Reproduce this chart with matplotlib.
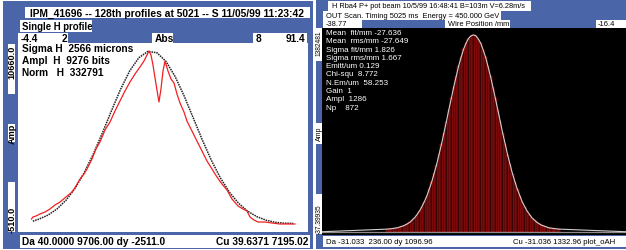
import numpy as np
import matplotlib
matplotlib.use("Agg")
import matplotlib.pyplot as plt
from matplotlib.patches import Rectangle

# ---------------- data: left panel (IPM profile) ----------------
left_xlim = (-4.4, 91.4)
left_ylim = (-510.0, 10660.0)
red_x = [0.06, 0.55, 1.55, 2.87, 4.52, 6.17, 7.82, 9.47, 11.45, 13.44, 14.76, 16.08,
         17.40, 18.39, 20.04, 21.36, 22.68, 24.34, 25.99, 27.64, 29.29, 30.94, 32.59,
         34.25, 35.90, 37.22, 38.21, 38.87, 39.53, 40.19, 41.18, 42.17, 42.83, 43.50,
         44.16, 45.15, 46.14, 47.13, 48.12, 49.11, 50.43, 51.42, 53.07, 54.72, 56.38,
         58.03, 59.68, 61.33, 62.98, 64.63, 66.28, 68.27, 69.92, 71.24, 72.23, 73.55,
         74.87, 77.18, 79.49, 82.13, 84.78, 87.09]
red_y = [258, 377, 436, 554, 672, 849, 1086, 1263, 1559, 1854, 2209, 2622,
         2918, 3213, 3804, 4395, 4809, 5518, 5991, 6641, 7232, 7823, 8355,
         8828, 9242, 9596, 9951, 10187, 9951, 9360, 8237, 7173, 7941, 9005,
         9596, 9005, 8532, 8296, 7646, 7114, 6582, 6050, 5459, 4868, 4277,
         3686, 3213, 2740, 2327, 1972, 1440, 1027, 849, 731, 377, 199,
         81, 81, 22, -37, -37, -37]
fit_x = [0.5, 2.5, 5.5, 8.5, 11.5, 14.5, 17.5, 20.5, 23.5, 26.5, 29.5, 32.5, 35.5,
         38.5, 41.5, 44.5, 47.5, 50.5, 53.5, 56.5, 59.5, 62.5, 65.5, 68.5, 71.5,
         74.5, 77.5, 80.5, 83.5, 86.5]
fit_y = [130, 249, 489, 853, 1376, 2086, 3001, 4106, 5355, 6667, 7929, 9011, 9787,
         10162, 10085, 9569, 8679, 7522, 6229, 4926, 3718, 2674, 1828, 1182, 716,
         397, 191, 63, 10, 0]

left_title = "IPM_41696 -- 128th profiles at 5021 -- S 11/05/99 11:23:42"
left_sub = "Single H profile"
left_stats = ["Sigma H  2566 microns", "Ampl  H  9276 bits", "Norm   H  332791"]
left_bottom_l = "Da 40.0000 9706.00 dy -2511.0"
left_bottom_r = "Cu 39.6371 7195.02"

# ---------------- data: right panel (wire scan) ----------------
right_xlim = (-38.77, -16.40)
right_ylim = (-37.39935, 1382.481)
baseline = -15.0
bin_start = -33.936          # centre of first bin (mm)
bin_width = 0.18             # mm
counts = [3, 5, 7, 10, 12, 18, 23, 30, 39, 49, 65, 81, 103, 127, 158, 192, 230, 278,
          327, 386, 446, 516, 586, 664, 741, 823, 899, 979, 1050, 1122, 1181, 1236,
          1277, 1310, 1328, 1335, 1330, 1308, 1279, 1234, 1183, 1120, 1053, 977, 901,
          821, 743, 662, 589, 514, 448, 384, 329, 276, 233, 190, 158, 127, 103, 80,
          65, 49, 39, 29, 24, 17, 12, 9, 7, 5, 3]
right_title1 = "H Rba4 P+ pot beam 10/5/99 16:48:41 B=103m V=6.28m/s"
right_title2 = "OUT Scan. Timing 5025 ms  Energy = 450.000 GeV"
right_stats = ["Mean  fit/mm -27.636", "Mean  rms/mm -27.649", "Sigma fit/mm 1.826",
               "Sigma rms/mm 1.667", "Emitt/um 0.129", "Chi-squ  8.772",
               "N.Em/um  58.253", "Gain  1", "Ampl  1286", "Np    872"]
right_bottom_l = "Da -31.033  236.00 dy 1096.96"
right_bottom_r = "Cu -31.036 1332.96 plot_oAH"

# ---------------- figure ----------------
W, H = 626, 251
fig = plt.figure(figsize=(W / 100, H / 100), dpi=100)
fig.patch.set_facecolor("white")
FONT = "Liberation Sans"
BLUE = "#4a66a8"

bg = fig.add_axes([0, 0, 1, 1], zorder=0)
bg.set_xlim(0, W); bg.set_ylim(H, 0); bg.axis("off")
ov = fig.add_axes([0, 0, 1, 1], zorder=5)
ov.set_xlim(0, W); ov.set_ylim(H, 0); ov.axis("off"); ov.patch.set_alpha(0)


def box(ax, x0, y0, x1, y1, color="white"):
    ax.add_patch(Rectangle((x0, y0), x1 - x0, y1 - y0, facecolor=color,
                           edgecolor="none"))


def txt(x, y, s, size=7, color="black", weight="bold", ha="left", rot=0, va="center"):
    ov.text(x, y, s, fontsize=size, color=color, fontweight=weight, ha=ha, va=va,
            rotation=rot, family=FONT)


# blue panels
box(bg, 3, 2, 313, 250, BLUE)
box(bg, 316, 0, 626, 250, BLUE)

# ---- left panel frame pieces ----
box(bg, 25, 8, 310, 19)
box(bg, 20, 21, 92, 33)
box(bg, 18, 34, 68, 44)
box(bg, 152, 34, 173, 44)
box(bg, 253, 34, 307, 44)
box(bg, 18, 44, 308, 233)
box(bg, 8, 45, 15, 95)
box(bg, 8, 125, 15, 143)
box(bg, 8, 183, 15, 233)
box(bg, 20, 236, 310, 249)

txt(30, 13.5, left_title, size=7.4)
txt(22, 27, left_sub, size=6.9)
txt(21, 39, "-4.4", size=7.3)
txt(62, 39, "2", size=7.3)
txt(155, 39, "Abs", size=7.3)
txt(256, 39, "8", size=7.3)
txt(305, 39, "91.4", size=7.3, ha="right")
for i, s in enumerate(left_stats):
    txt(22, 49 + 12 * i, s, size=7.3)
txt(11.8, 46, "10660.0", size=6.6, rot=90, va="top", ha="center")
txt(11.8, 134, "Amp", size=6.6, rot=90, ha="center")
txt(11.8, 233, "-510.0", size=6.6, rot=90, va="bottom", ha="center")
txt(22, 242.5, left_bottom_l, size=7.3)
txt(308, 242.5, left_bottom_r, size=7.3, ha="right")

axL = fig.add_axes([18 / W, (H - 233) / H, 290 / W, 189 / H], zorder=2)
axL.patch.set_alpha(0)
axL.set_xlim(*left_xlim); axL.set_ylim(*left_ylim); axL.axis("off")
axL.plot(fit_x, fit_y, color="#202020", lw=1.1, ls=(0, (1, 0.6)))
axL.plot(red_x, red_y, color="#f02020", lw=0.9)

# ---- right panel frame pieces ----
box(bg, 328, 2, 531, 12)
box(bg, 323, 12, 501, 21)
box(bg, 323, 21, 362, 29)
box(bg, 445, 21, 510, 29)
box(bg, 596, 21, 626, 29)
box(bg, 322, 29, 626, 236, "black")
box(bg, 316, 29, 322, 62)
box(bg, 316, 124, 322, 145)
box(bg, 316, 195, 322, 235)
box(bg, 323, 237, 626, 248)

txt(332, 7, right_title1, size=5.3, weight="normal")
txt(326, 16.5, right_title2, size=5.4, weight="normal")
txt(326, 25, "-38.77", size=5.4, weight="normal")
txt(448, 25, "Wire Position /mm", size=5.4, weight="normal")
txt(598, 25, "-16.4", size=5.4, weight="normal")
for i, s in enumerate(right_stats):
    txt(326, 33.5 + 8.3 * i, s, size=5.8, color="white", weight="normal")
txt(319.2, 30, "1382481", size=4.8, rot=90, va="top", ha="center", weight="normal")
txt(319.2, 134, "Amp", size=5, rot=90, ha="center", weight="normal")
txt(319.2, 234, "-37.39935", size=4.8, rot=90, va="bottom", ha="center", weight="normal")
txt(326, 242.5, right_bottom_l, size=5.6, weight="normal")
txt(615, 242.5, right_bottom_r, size=5.6, weight="normal", ha="right")

axR = fig.add_axes([322 / W, (H - 236) / H, 304 / W, 207 / H], zorder=2)
axR.patch.set_alpha(0)
axR.set_xlim(*right_xlim); axR.set_ylim(*right_ylim); axR.axis("off")
centres = bin_start + bin_width * np.arange(len(counts))
heights = np.array(counts, dtype=float) - baseline
axR.axhline(baseline, color="#8c8c8c", lw=0.9)
axR.bar(centres, heights, bottom=baseline, width=bin_width, facecolor="#3a0404",
        edgecolor="#d81414", linewidth=0.35)
cx = np.concatenate([[right_xlim[0]], centres, [right_xlim[1]]])
cy = np.concatenate([[baseline], counts, [baseline]])
axR.plot(cx, cy, color="#d0d0d0", lw=0.8)

fig.savefig("out.png", dpi=100, facecolor="white")
